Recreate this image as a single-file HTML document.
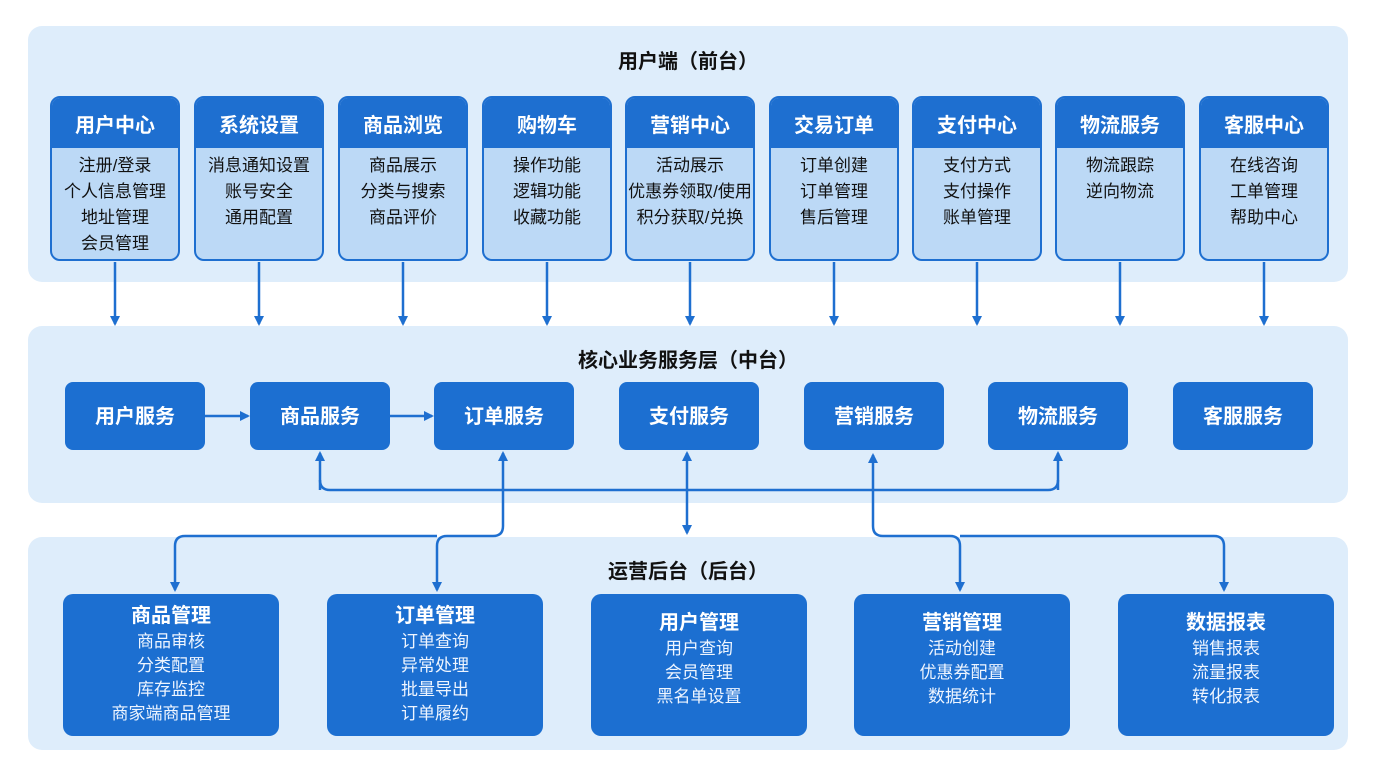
<!DOCTYPE html>
<html><head><meta charset="utf-8"><style>
*{margin:0;padding:0;box-sizing:border-box}
body{width:1376px;height:768px;background:#fff;position:relative;overflow:hidden;font-family:"Liberation Sans","Noto Sans CJK SC",sans-serif}
.panel{position:absolute;left:28px;width:1320px;background:#deedfb;border-radius:14px}
.ptitle{position:absolute;width:100%;text-align:center;font-size:20px;font-weight:bold;color:#111}
.tb{position:absolute;top:96px;width:130px;height:165px;border:2px solid #1e6fd0;border-radius:10px;background:#bcd9f6;overflow:hidden}
.tb .h{height:50px;background:#1e6fd0;color:#fff;font-size:20px;font-weight:bold;text-align:center;line-height:56px}
.tb .b{text-align:center;font-size:17px;line-height:26px;color:#111;padding-top:5px}
.mb{position:absolute;top:382px;width:140px;height:68px;background:#1c6fd1;border-radius:8px;color:#fff;font-size:20px;font-weight:bold;text-align:center;line-height:70px}
.bb{position:absolute;top:594px;width:216px;height:142px;background:#1c6fd1;border-radius:10px;color:#fff;text-align:center}
.bb .h{font-size:20px;font-weight:bold;margin-bottom:2px}
.bb .b{font-size:17px;line-height:24px;color:#eef5ff}
</style></head><body>
<div class="panel" style="top:26px;height:256px"><div class="ptitle" style="top:19px">用户端（前台）</div></div>
<div class="panel" style="top:326px;height:177px"><div class="ptitle" style="top:18px">核心业务服务层（中台）</div></div>
<div class="panel" style="top:537px;height:213px"><div class="ptitle" style="top:18px">运营后台（后台）</div></div>

<div class="tb" style="left:50px"><div class="h">用户中心</div><div class="b">注册/登录<br>个人信息管理<br>地址管理<br>会员管理</div></div>
<div class="tb" style="left:194px"><div class="h">系统设置</div><div class="b">消息通知设置<br>账号安全<br>通用配置</div></div>
<div class="tb" style="left:338px"><div class="h">商品浏览</div><div class="b">商品展示<br>分类与搜索<br>商品评价</div></div>
<div class="tb" style="left:482px"><div class="h">购物车</div><div class="b">操作功能<br>逻辑功能<br>收藏功能</div></div>
<div class="tb" style="left:625px"><div class="h">营销中心</div><div class="b">活动展示<br>优惠券领取/使用<br>积分获取/兑换</div></div>
<div class="tb" style="left:769px"><div class="h">交易订单</div><div class="b">订单创建<br>订单管理<br>售后管理</div></div>
<div class="tb" style="left:912px"><div class="h">支付中心</div><div class="b">支付方式<br>支付操作<br>账单管理</div></div>
<div class="tb" style="left:1055px"><div class="h">物流服务</div><div class="b">物流跟踪<br>逆向物流</div></div>
<div class="tb" style="left:1199px"><div class="h">客服中心</div><div class="b">在线咨询<br>工单管理<br>帮助中心</div></div>

<div class="mb" style="left:65px">用户服务</div>
<div class="mb" style="left:250px">商品服务</div>
<div class="mb" style="left:434px">订单服务</div>
<div class="mb" style="left:619px">支付服务</div>
<div class="mb" style="left:804px">营销服务</div>
<div class="mb" style="left:988px">物流服务</div>
<div class="mb" style="left:1173px">客服服务</div>

<div class="bb" style="left:63px;padding-top:5px"><div class="h">商品管理</div><div class="b">商品审核<br>分类配置<br>库存监控<br>商家端商品管理</div></div>
<div class="bb" style="left:327px;padding-top:5px"><div class="h">订单管理</div><div class="b">订单查询<br>异常处理<br>批量导出<br>订单履约</div></div>
<div class="bb" style="left:591px;padding-top:12px"><div class="h">用户管理</div><div class="b">用户查询<br>会员管理<br>黑名单设置</div></div>
<div class="bb" style="left:854px;padding-top:12px"><div class="h">营销管理</div><div class="b">活动创建<br>优惠券配置<br>数据统计</div></div>
<div class="bb" style="left:1118px;padding-top:12px"><div class="h">数据报表</div><div class="b">销售报表<br>流量报表<br>转化报表</div></div>

<svg width="1376" height="768" style="position:absolute;left:0;top:0" fill="none">
<defs><marker id="a" markerWidth="10" markerHeight="10" refX="8" refY="5" orient="auto" markerUnits="userSpaceOnUse"><path d="M0,0 L10,5 L0,10 z" fill="#1e6fd0"/></marker></defs>
<g stroke="#1e6fd0" stroke-width="2.5" marker-end="url(#a)">
<path d="M115 262V324"/><path d="M259 262V324"/><path d="M403 262V324"/><path d="M547 262V324"/><path d="M690 262V324"/><path d="M834 262V324"/><path d="M977 262V324"/><path d="M1120 262V324"/><path d="M1264 262V324"/>
<path d="M205 416H248"/><path d="M389 416H432"/>
<path d="M320 490V453"/>
<path d="M1058 490V453"/>
<path d="M320 480Q320 490 330 490H1048Q1058 490 1058 480" marker-end="none"/>
<path d="M503 526V453"/>
<path d="M503 526Q503 536 493 536H447Q437 536 437 546V590"/>
<path d="M437 536H185Q175 536 175 546V590"/>
<path d="M687 470V453"/><path d="M687 470V533"/>
<path d="M873 526V455"/>
<path d="M873 526Q873 536 883 536H950Q960 536 960 546V590"/>
<path d="M960 536H1214Q1224 536 1224 546V590"/>
</g>
</svg>
</body></html>
